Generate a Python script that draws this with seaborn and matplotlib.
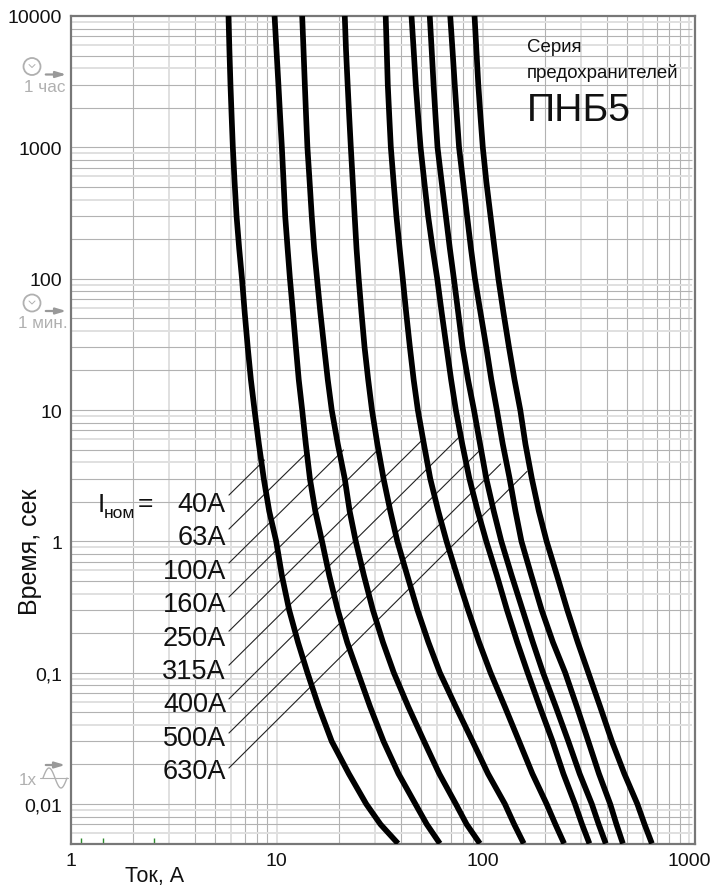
import numpy as np
import pandas as pd
import matplotlib
matplotlib.use('Agg')
import matplotlib.pyplot as plt
from matplotlib.patches import Circle
import seaborn as sns

# --- Data ---
TIME_POINTS = [10000, 5500, 3000, 1700, 1000, 550, 300, 170, 100, 55, 30, 17, 10, 5.5, 3, 1.7,
               1, 0.55, 0.3, 0.17, 0.1, 0.055, 0.03, 0.017, 0.01, 0.007, 0.005]

I_40 = [5.84, 5.90, 5.97, 6.05, 6.13, 6.25, 6.39, 6.58, 6.79, 7.0, 7.24, 7.5, 7.81, 8.2, 8.66, 9.2,
        9.95, 10.6, 11.5, 12.7, 14.1, 16.0, 18.5, 22.4, 27.2, 31.9, 38.8]
I_63 = [9.77, 9.98, 10.2, 10.4, 10.6, 10.8, 11.0, 11.3, 11.6, 12.0, 12.4, 12.8, 13.3, 13.85, 14.5, 15.4,
        16.6, 18.0, 19.8, 22.0, 24.8, 28.4, 33.0, 39.0, 47.1, 53.5, 61.9]
I_100 = [13.3, 13.5, 13.7, 13.9, 14.1, 14.45, 14.8, 15.2, 15.7, 16.3, 17.0, 17.7, 18.5, 19.8, 21.4, 22.6,
         24.2, 26.5, 29.3, 32.8, 37.0, 43.5, 51.9, 61.5, 74.0, 83.5, 96.8]
I_160 = [21.4, 21.7, 22.1, 22.5, 22.9, 23.4, 23.9, 24.4, 25.0, 25.8, 26.7, 27.8, 29.0, 30.8, 33.0, 35.6,
         38.5, 43, 48.2, 54.5, 61.9, 74, 89.2, 106, 128, 142, 158]
I_250 = [33.8, 34.2, 34.6, 35.2, 35.8, 36.9, 38.1, 39.5, 40.9, 42.5, 44.3, 46.2, 48.4, 51.8, 55.6, 60.8,
         66.7, 75, 84.9, 96, 109, 128, 150, 174, 204, 225, 248]
I_315 = [45.1, 46.2, 47.3, 48.6, 49.9, 52.0, 54.3, 57.1, 60.1, 63.2, 66.7, 70.2, 74.0, 79.5, 86.1, 94.5,
         104, 117, 131, 147, 165, 189, 218, 246, 280, 303, 329]
I_400 = [55.3, 56.5, 57.7, 59.0, 60.3, 63.1, 66.2, 69.2, 72.4, 76.0, 79.8, 84.8, 90.6, 97, 104, 113,
         123, 138, 156, 175, 196, 226, 260, 295, 338, 365, 395]
I_500 = [69.5, 71.3, 73.1, 74.9, 76.7, 80.2, 83.9, 87.6, 91.6, 97.5, 104, 110, 117, 125, 135, 144,
         154, 172, 193, 219, 251, 286, 325, 366, 415, 445, 478]
I_630 = [91.2, 93.1, 95.1, 97.5, 100, 104, 109, 114, 119, 126, 134, 142.5, 152, 161, 173, 187,
         204, 229, 257, 289, 325, 371, 423, 486, 562, 609, 661]

RATINGS = ['40А', '63А', '100А', '160А', '250А', '315А', '400А', '500А', '630А']
CURVES = [I_40, I_63, I_100, I_160, I_250, I_315, I_400, I_500, I_630]

# leader lines from the rating labels up to the curves
LEADER_X0 = 5.87
LEADER_Y0 = [2.25, 1.24, 0.684, 0.377, 0.207, 0.114, 0.0631, 0.0347, 0.0188]
LEADER_X1 = [8.73, 13.7, 21.1, 30.5, 51, 78, 95.7, 122, 164]
LEADER_Y1 = [4.16, 4.57, 4.96, 4.85, 5.94, 6.37, 4.85, 3.88, 3.41]

Y_TICKS = [10000, 1000, 100, 10, 1, 0.1, 0.01]
Y_TICK_LABELS = ['10000', '1000', '100', '10', '1', '0,1', '0,01']
X_TICKS = [1, 10, 100, 1000]
X_TICK_LABELS = ['1', '10', '100', '1000']
GREEN_TICKS = [1.12, 1.43, 2.54]

X_DECADES = [1, 10, 100]
Y_DECADES = [0.001, 0.01, 0.1, 1, 10, 100, 1000]

DARK = '#b2b2b2'
LIGHT = '#e0e0e0'
GREY_TEXT = '#b0b0b0'

sns.set_theme(style='white')
plt.rcParams['font.family'] = ['Liberation Sans', 'DejaVu Sans']

W, H = 717, 887
fig = plt.figure(figsize=(W / 100, H / 100), dpi=100)
ax = fig.add_axes([70.5 / W, 1 - 845 / H, (695 - 70.5) / W, (845 - 17) / H])

df = pd.concat([
    pd.DataFrame({'current': c, 'time': TIME_POINTS, 'rating': r})
    for c, r in zip(CURVES, RATINGS)
])

XMAX = 1070
YMIN = 0.00496
GRID_END = 1040

# grid: the chart mixes thin dark and wider pale lines
for d in X_DECADES:
    for m in [2, 4, 5, 7, 8, 9]:
        ax.vlines(d * m, YMIN, 10000, color=DARK, lw=0.8, zorder=1)
    for m in [3, 6, 10]:
        ax.vlines(d * m, YMIN, 10000, color=LIGHT, lw=1.4, zorder=1)
for d in Y_DECADES:
    for m in [2, 3, 5, 7, 8, 10]:
        if YMIN < d * m < 10000:
            ax.hlines(d * m, 1, GRID_END, color=DARK, lw=0.8, zorder=1)
    for m in [4, 6, 9]:
        if YMIN < d * m < 10000:
            ax.hlines(d * m, 1, GRID_END, color=LIGHT, lw=1.4, zorder=1)

ax.vlines(GREEN_TICKS, YMIN, 0.0055, color='#2e8b2e', lw=1, zorder=2)

for y0, x1, y1 in zip(LEADER_Y0, LEADER_X1, LEADER_Y1):
    ax.plot([LEADER_X0, x1], [y0, y1], color='#222222', lw=0.8, zorder=3)

sns.lineplot(data=df, x='current', y='time', hue='rating', palette=['black'] * len(RATINGS),
             estimator=None, sort=False, lw=4.1, legend=False, ax=ax, zorder=4,
             solid_capstyle='butt', solid_joinstyle='round')

ax.set_xscale('log')
ax.set_yscale('log')
ax.set_xlim(1, XMAX)
ax.set_ylim(YMIN, 10000)
ax.set_xticks(X_TICKS)
ax.set_xticklabels(X_TICK_LABELS, fontsize=14, color='#111111')
ax.set_yticks(Y_TICKS)
ax.set_yticklabels(Y_TICK_LABELS, fontsize=14, color='#111111')
ax.minorticks_off()
ax.tick_params(axis='both', length=0, pad=6)
ax.tick_params(axis='x', pad=6)
ax.set_xlabel('Ток, А', fontsize=15.5, color='#111111')
ax.set_ylabel('Время, сек', fontsize=18, color='#111111')
ax.xaxis.set_label_coords((155 - 70.5) / (695 - 70.5), -(877 - 845) / (845 - 17), transform=ax.transAxes)
ax.xaxis.label.set_va('center')
ax.yaxis.set_label_coords(-(70.5 - 30) / (695 - 70.5), (845 - 552) / (845 - 17), transform=ax.transAxes)
ax.yaxis.label.set_va('center')
for s in ax.spines.values():
    s.set_visible(True)
    s.set_color('#777777')
    s.set_linewidth(1.6)

# overlay in pixel coordinates for labels and small icons
ov = fig.add_axes([0, 0, 1, 1], facecolor='none')
ov.set_xlim(0, W)
ov.set_ylim(H, 0)
ov.axis('off')

for i, r in enumerate(RATINGS):
    ov.text(226, 505 + i * 33.4, r, fontsize=19.5, ha='right', va='center', color='#111111')

ov.text(98, 505.5, 'I', fontsize=19, va='center', color='#111111')
ov.text(104, 514, 'ном', fontsize=12.5, va='center', color='#111111')
ov.text(138, 504, '=', fontsize=19, va='center', color='#111111')

ov.text(527, 48, 'Серия', fontsize=13.4, va='center', color='#111111')
ov.text(527, 73, 'предохранителей', fontsize=13.4, va='center', color='#111111')
ov.text(527, 111, 'ПНБ5', fontsize=28.3, va='center', color='#111111')


def clock(cx, cy, label, lx, ly):
    ov.add_patch(Circle((cx, cy), 8.5, fill=False, ec=GREY_TEXT, lw=1.3))
    ov.plot([cx - 3, cx, cx + 3], [cy - 2, cy + 1, cy - 2], color=GREY_TEXT, lw=0.7)
    ov.annotate('', xy=(cx + 37, cy + 8), xytext=(cx + 11, cy + 8),
                arrowprops=dict(arrowstyle='-|>,head_width=0.15,head_length=0.5', color='#999999', lw=1.6))
    ov.text(lx, ly, label, fontsize=12.3, ha='right', va='center', color=GREY_TEXT)


clock(32, 67.5, '1 час', 66, 88)
clock(32, 304, '1 мин.', 68, 324)

# one period of a sine, icon under the 0,02 line
ov.annotate('', xy=(68, 766), xytext=(43, 766),
            arrowprops=dict(arrowstyle='-|>,head_width=0.15,head_length=0.5', color='#999999', lw=1.6))
phase = np.linspace(0, 2 * np.pi, 50)
ov.plot(43 + phase / (2 * np.pi) * 24, 779 - 10 * np.sin(phase), color=GREY_TEXT, lw=1)
ov.plot([40, 68], [779, 779], color=GREY_TEXT, lw=0.8)
ov.text(19, 781, '1x', fontsize=12.3, va='center', color=GREY_TEXT)

fig.savefig('out.png', dpi=100)
